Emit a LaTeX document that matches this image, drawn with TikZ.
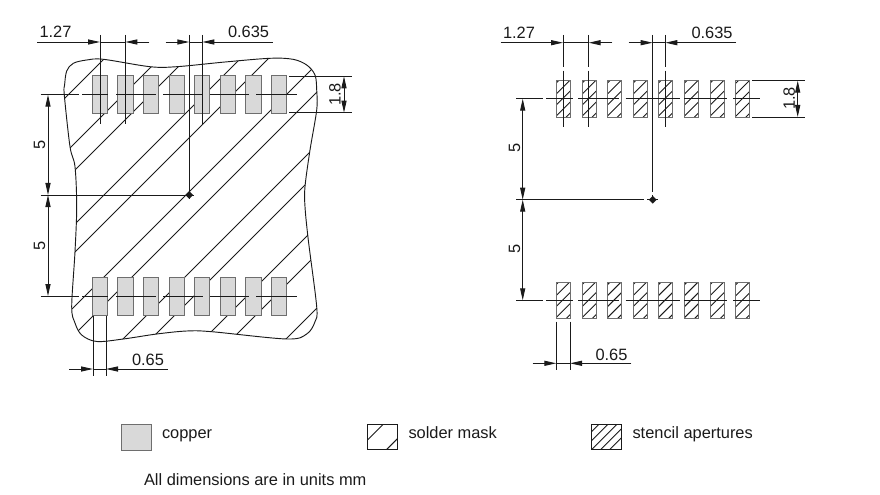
\documentclass[tikz,border=0pt]{standalone}
\usepackage{fontspec}
\setmainfont{Liberation Sans}
\usetikzlibrary{arrows.meta,shapes.geometric}
\definecolor{ink}{HTML}{1A1A1A}
\definecolor{padedge}{HTML}{6E6E6E}
\definecolor{padfill}{HTML}{D9D9D9}
\tikzset{
  lne/.style={draw=ink,line width=0.7pt},
  dimtip/.style={lne,-{Triangle[length=9pt,width=3.8pt]}},
  lbl/.style={inner sep=0pt,outer sep=0pt,anchor=base west,text=ink,font=\fontsize{12.3}{14}\selectfont},
  vlbl/.style={inner sep=0pt,outer sep=0pt,anchor=center,rotate=90,text=ink,font=\fontsize{12.3}{14}\selectfont},
  copperpad/.style={draw=padedge,fill=padfill,line width=0.75pt},
  stencilpad/.style={draw=padedge,line width=0.75pt},
  dot/.style={diamond,fill=ink,inner sep=0pt,minimum size=6pt}
}
\newcommand{\hdim}[5]{% y, x-start, tick1, tick2, x-end
  \coordinate (a) at (#2,#1); \coordinate (b) at (#3,#1);
  \coordinate (c) at (#5,#1); \coordinate (d) at (#4,#1);
  \draw[dimtip] (a) -- (b);
  \draw[dimtip] (c) -- (d);
  \draw[lne] (b) -- (d);}
\newcommand{\vdimout}[3]{% x, y-top, y-bottom: arrows pointing out to both ends
  \coordinate (a) at (#1,{(#2+#3)/2}); \coordinate (b) at (#1,#2); \coordinate (c) at (#1,#3);
  \draw[dimtip] (a) -- (b);
  \draw[dimtip] (a) -- (c);}
\begin{document}
\begin{tikzpicture}[x=0.75pt,y=-0.75pt]
\useasboundingbox (0,0) rectangle (880,495);
% ---------- LEFT VIEW: solder mask ----------
\def\maskoutline{plot[smooth cycle,tension=0.55] coordinates {
 (64.3,95) (64.6,85) (66.7,71) (73.3,63.3) (86.7,60) (103.3,59.3) (150,66.7) (176.7,66.7) (225,62) (270,58.3)
 (293,59.3) (306.7,65) (315,75) (316.7,90)
 (316.7,110) (310,150) (305,186.7) (305,206.7) (308.3,240) (316.7,306.7) (315,321.7) (306.7,334) (286.7,339)
 (211.7,331.7) (186.7,331) (156.7,334) (123.3,339) (96.7,341.5) (81.7,335) (75,323) (71.7,306.7) (75,251.7)
 (76.7,206.7) (75,166.7) (70,146.7)}}
\begin{scope}
  \clip \maskoutline;
  \foreach \c in {163,218,245,299,327,381,409,462,490,543,571,625}
    \draw[lne] (\c,0) -- ({\c-500},500);
\end{scope}
\draw[lne] \maskoutline;
% copper pads
\foreach \x in {92,117.7,143.3,169,194.3,220.3,245.7,271.3}{
  \draw[copperpad] (\x,75.3) rectangle ++(15.5,38.4);
  \draw[copperpad] (\x,277.3) rectangle ++(15.5,38.4);
}
% centre lines
\foreach \y in {94.7,296}{
  \foreach \a/\b in {40.7/79.3,82/108.3,116/156,163.3/203.3,210/249.3,256/297.3}
    \draw[lne] (\a,\y) -- (\b,\y);
}
% extension lines
\draw[lne] (100,35) -- (100,124);
\draw[lne] (125.3,35) -- (125.3,124);
\draw[lne] (202.3,35) -- (202.3,124);
\draw[lne] (189.3,35) -- (189.3,199);
\draw[lne] (40.7,195) -- (194,195);
\node[dot] (c1) at (189.3,195) {};
\hdim{42}{37.3}{100}{125.3}{149.3}
\hdim{42}{165.7}{189.3}{202.3}{272.7}
\node[lbl] (t127a) at (39.5,38) {1.27};
\node[lbl] (t635a) at (228,38) {0.635};
% 1.8
\draw[lne] (289,76.3) -- (351.7,76.3);
\draw[lne] (289,112.7) -- (351.7,112.7);
\vdimout{344}{76.3}{112.7}
\node[vlbl] (t18a) at (335,94.5) {1.8};
% 5 / 5
\vdimout{48}{94.7}{195}
\vdimout{48}{195}{296}
\node[vlbl] (t5a) at (39.5,145) {5};
\node[vlbl] (t5b) at (39.5,246) {5};
% 0.65
\draw[lne] (93,315.7) -- (93,375.7);
\draw[lne] (106,315.7) -- (106,375.7);
\hdim{369}{69.3}{93}{106}{167.7}
\node[lbl] (t65a) at (132,365.7) {0.65};
% ---------- RIGHT VIEW: stencil apertures ----------
\foreach \x in {556,582,607.3,633,658.3,684.3,710,735.7}{
  \foreach \y in {80.7,282.3}{
    \begin{scope}
      \clip (\x,\y) rectangle ++(14,36.4);
      \foreach \k in {2.5,13.5,24.5,35.5,46.5}
        \draw[lne] ({\x+\k},\y) -- (\x,{\y+\k});
    \end{scope}
    \draw[stencilpad] (\x,\y) rectangle ++(14,36.4);
  }
}
\foreach \y in {98.7,300.3}{
  \foreach \a/\b in {516/543.3,546/572.7,578.3/619,625.7/680,684/727.3,733.3/760}
    \draw[lne] (\a,\y) -- (\b,\y);
}
\foreach \x in {563,588.7,665.3}{
  \draw[lne] (\x,35) -- (\x,67.3);
  \draw[lne] (\x,70.7) -- (\x,126.7);
}
\draw[lne] (652.7,35) -- (652.7,191.7);
\draw[lne] (652.7,195) -- (652.7,203.3);
\draw[lne] (516,199.7) -- (644.3,199.7);
\draw[lne] (647.3,199.7) -- (658.3,199.7);
\node[dot] (c2) at (652.7,199.7) {};
\hdim{42.7}{500.7}{563}{588.7}{612.3}
\hdim{42.7}{628.7}{652.7}{665.3}{736}
\node[lbl] (t127b) at (503,39) {1.27};
\node[lbl] (t635b) at (691.5,39) {0.635};
\draw[lne] (752.3,80.7) -- (805,80.7);
\draw[lne] (752.3,117) -- (805,117);
\vdimout{797.7}{80.7}{117}
\node[vlbl] (t18b) at (789.3,98.5) {1.8};
\vdimout{522.7}{98.7}{199.7}
\vdimout{522.7}{199.7}{300.3}
\node[vlbl] (t5c) at (514.5,148.3) {5};
\node[vlbl] (t5d) at (514.5,249.3) {5};
\draw[lne] (556.3,321.7) -- (556.3,370);
\draw[lne] (570,321.7) -- (570,370);
\hdim{363.3}{532.7}{556.3}{570}{631.3}
\node[lbl] (t65b) at (595.5,360) {0.65};
% ---------- LEGEND ----------
\draw[copperpad] (121,424.3) rectangle (151,450);
\node[lbl] (lg1) at (162,438.5) {copper};
\begin{scope}
  \clip (367.5,424.3) rectangle (397.5,449.5);
  \foreach \k in {15.7,44.3}
    \draw[lne] ({367.5+\k},424.3) -- (367.5,{424.3+\k});
\end{scope}
\draw[lne] (367.5,424.3) rectangle (397.5,449.5);
\node[lbl] (lg2) at (408.5,438.5) {solder mask};
\begin{scope}
  \clip (591,424.3) rectangle (621,449.5);
  \foreach \k in {8,17,26,35,44}
    \draw[lne] ({591+\k},424.3) -- (591,{424.3+\k});
\end{scope}
\draw[lne] (591,424.3) rectangle (621,449.5);
\node[lbl] (lg3) at (632.5,438.5) {stencil apertures};
\node[lbl] (note) at (144,485) {All dimensions are in units mm};
\end{tikzpicture}
\end{document}
